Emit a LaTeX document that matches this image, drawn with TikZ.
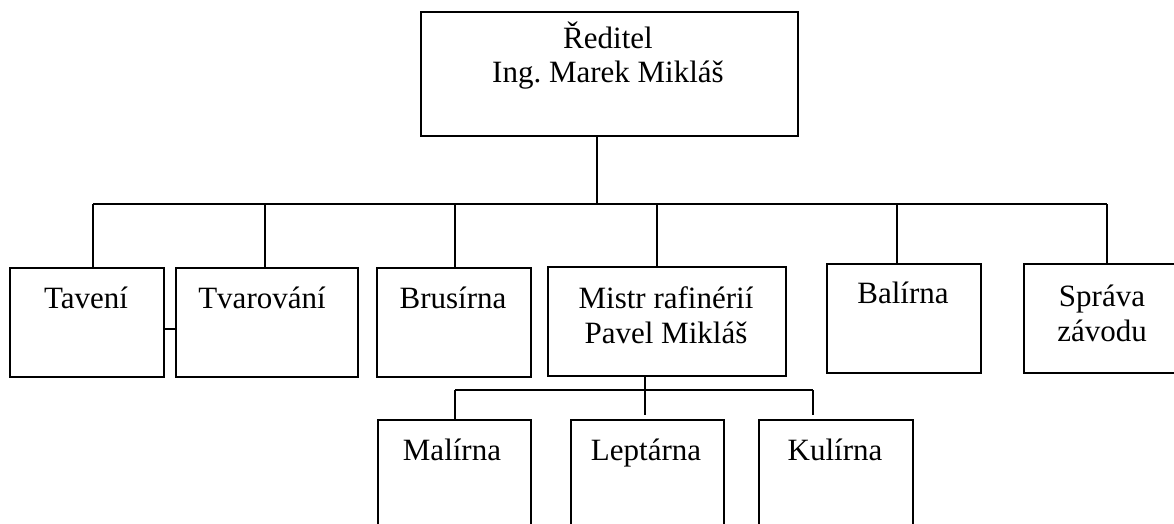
\documentclass[tikz,border=0pt]{standalone}
\usepackage{fontspec}
\setmainfont{Liberation Serif}
\frenchspacing
\begin{document}
\begin{tikzpicture}[x=1pt,y=-1pt,
  box/.style={draw, line width=1.9pt, inner sep=0pt, anchor=north west},
  lbl/.style={font=\fontsize{31}{34.5}\selectfont, align=center, anchor=base, inner sep=0pt},
  link/.style={line width=1.9pt}]
\clip (0,0) rectangle (1174,524);

% boxes
\node[box, minimum width=377pt, minimum height=124pt] (dir) at (420,11) {};
\node[box, minimum width=154pt, minimum height=109pt] (tav) at (9,267) {};
\node[box, minimum width=182pt, minimum height=109pt] (tvar) at (175,267) {};
\node[box, minimum width=154pt, minimum height=109pt] (brus) at (376,267) {};
\node[box, minimum width=238pt, minimum height=109pt] (mistr) at (547,266) {};
\node[box, minimum width=154pt, minimum height=109pt] (bal) at (826,263) {};
\node[box, minimum width=180pt, minimum height=109pt] (sprava) at (1023,263) {};
\node[box, minimum width=153pt, minimum height=130pt] (mal) at (377,419) {};
\node[box, minimum width=153pt, minimum height=130pt] (lept) at (570,419) {};
\node[box, minimum width=154pt, minimum height=130pt] (kul) at (758,419) {};

% labels (multi-line labels sit on the baseline of their last line)
\node[lbl] (tdir) at (608,83) {Ředitel\\Ing. Marek Mikláš};
\node[lbl] (ttav) at (86,308) {Tavení};
\node[lbl] (ttvar) at (262,308) {Tvarování};
\node[lbl] (tbrus) at (453,308) {Brusírna};
\node[lbl] (tmistr) at (666,343) {Mistr rafinérií\\Pavel Mikláš};
\node[lbl] (tbal) at (903,303) {Balírna};
\node[lbl] (tsprava) at (1102,341) {Správa\\závodu};
\node[lbl] (tmal) at (452,460) {Malírna};
\node[lbl] (tlept) at (646,460) {Leptárna};
\node[lbl] (tkul) at (835,460) {Kulírna};

% main bus
\coordinate (hub) at (597,204);
\coordinate (b1) at (93,204);
\coordinate (b2) at (265,204);
\coordinate (b3) at (455,204);
\coordinate (b4) at (657,204);
\coordinate (b5) at (897,204);
\coordinate (b6) at (1107,204);
\draw[link] (hub |- dir.south) -- (hub);
\draw[link] (b1) -- (b6);
\draw[link] (b1) -- (b1 |- tav.north);
\draw[link] (b2) -- (b2 |- tvar.north);
\draw[link] (b3) -- (b3 |- brus.north);
\draw[link] (b4) -- (b4 |- mistr.north);
\draw[link] (b5) -- (b5 |- bal.north);
\draw[link] (b6) -- (b6 |- sprava.north);

% side link between the first two boxes
\coordinate (side) at (0,329);
\draw[link] (tav.east |- side) -- (tvar.west |- side);

% sub bus below the refinery master
\coordinate (s0) at (645,390);
\coordinate (s1) at (455,390);
\coordinate (s2) at (813,390);
\coordinate (stop) at (0,415);
\draw[link] (s0 |- mistr.south) -- (s0 |- stop);
\draw[link] (s1) -- (s2);
\draw[link] (s1) -- (s1 |- mal.north);
\draw[link] (s2) -- (s2 |- stop);
\end{tikzpicture}
\end{document}
